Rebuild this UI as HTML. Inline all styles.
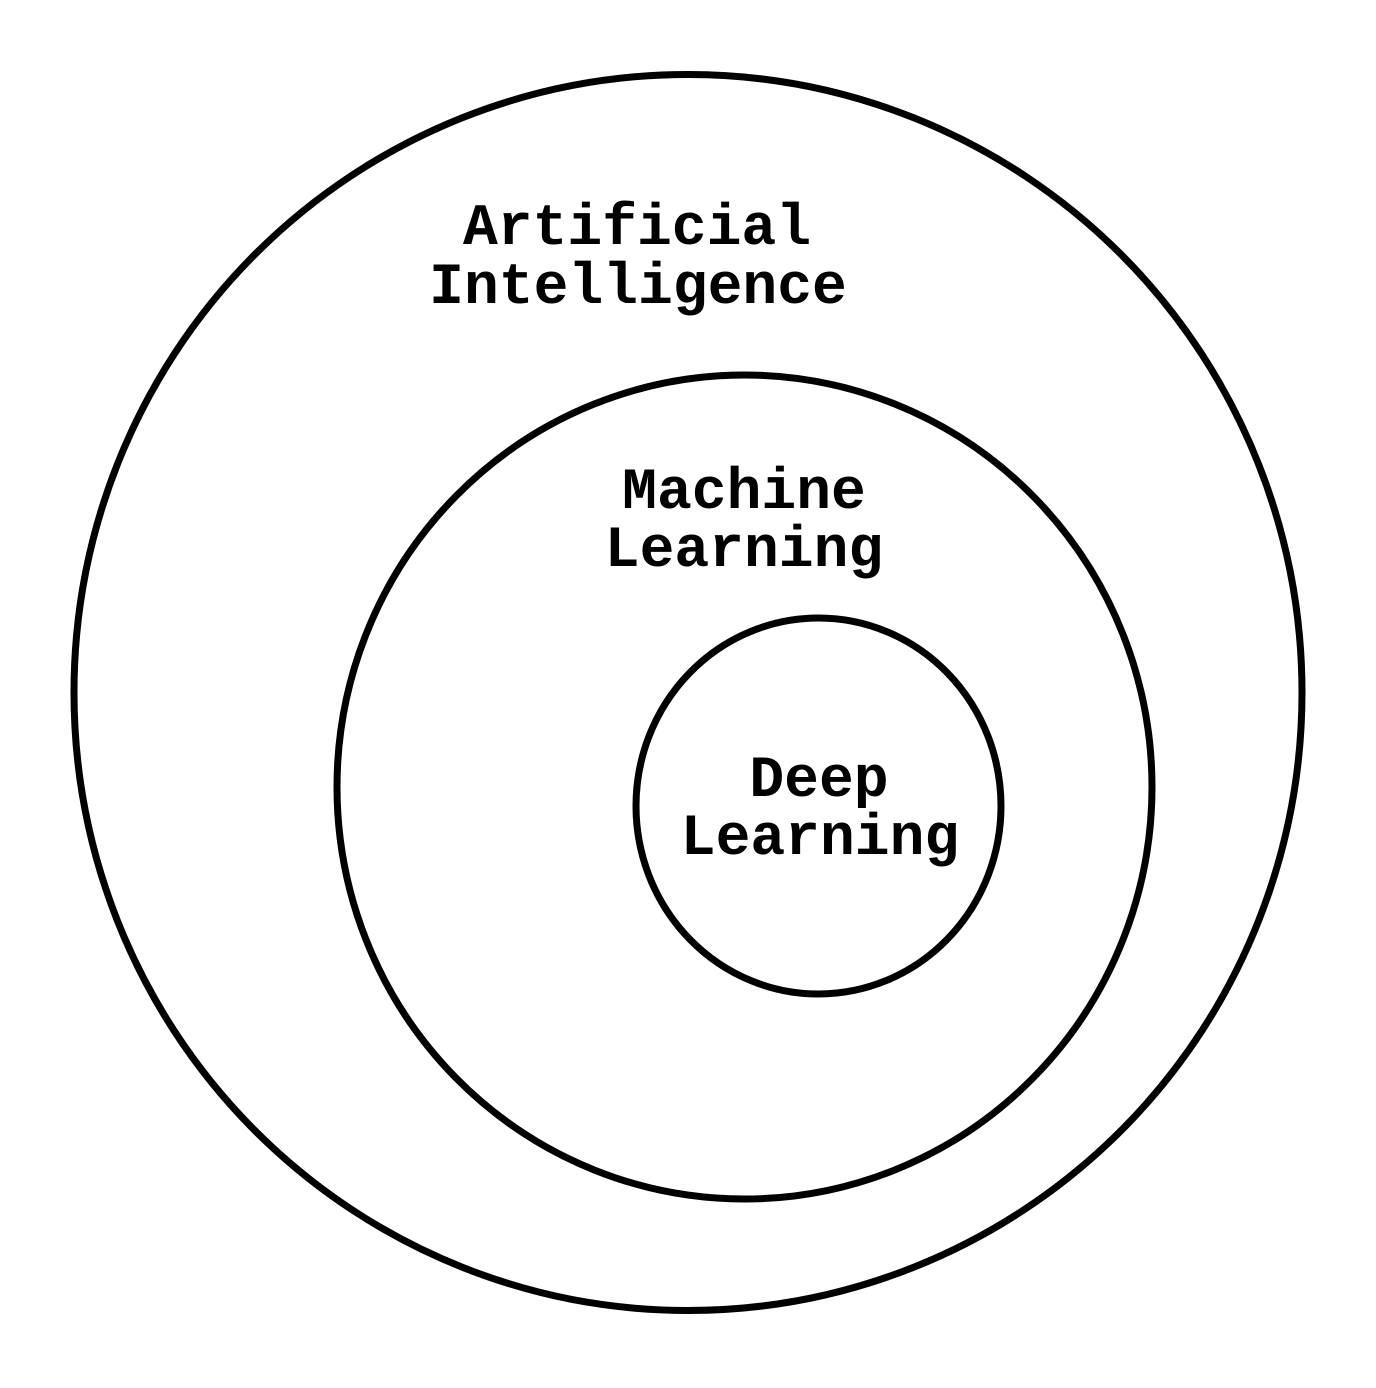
<!DOCTYPE html>
<html><head><style>
html,body{margin:0;padding:0;background:#fff;}
svg{display:block;}
text{font-family:"Liberation Mono",monospace;font-weight:bold;font-size:58px;fill:#000;}
</style></head><body>
<svg width="1376" height="1388" viewBox="0 0 1376 1388" xmlns="http://www.w3.org/2000/svg">
<rect width="1376" height="1388" fill="#fff"/>
<g fill="none" stroke="#000" stroke-width="7">
<ellipse cx="688" cy="692.5" rx="614" ry="618"/>
<ellipse cx="744.5" cy="787" rx="407.5" ry="412"/>
<ellipse cx="818.5" cy="806" rx="182.5" ry="188"/>
</g>
<text x="637" y="244" text-anchor="middle">Artificial</text>
<text x="638" y="303" text-anchor="middle">Intelligence</text>
<text x="744" y="508" text-anchor="middle">Machine</text>
<text x="744" y="566" text-anchor="middle">Learning</text>
<text x="819" y="796" text-anchor="middle">Deep</text>
<text x="820" y="854" text-anchor="middle">Learning</text>
</svg>
</body></html>
